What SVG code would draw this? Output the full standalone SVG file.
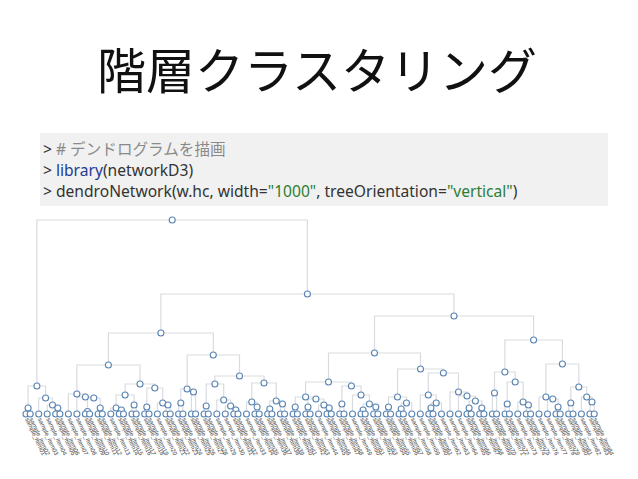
<svg xmlns="http://www.w3.org/2000/svg" width="638" height="479" viewBox="0 0 638 479">
<style>
.title{font-family:"Noto Sans CJK JP","Noto Sans",sans-serif;font-size:49px;fill:#111}
.code{font-family:"Noto Sans","Noto Sans CJK JP",sans-serif;font-size:15.6px;fill:#333}
.cm{fill:#8a8a8a}.kw{fill:#1f3a93}.st{fill:#2e7d32}
.lk{fill:none;stroke:#d8dbe0;stroke-width:1.2}
circle{fill:#fff;stroke:#5b85b3;stroke-width:1.1}
.lb{font-family:"Liberation Sans",sans-serif;font-size:6px;fill:#444}
</style>
<rect width="638" height="479" fill="#fff"/>
<text class="title" x="317" y="89" text-anchor="middle">階層クラスタリング</text>
<rect x="40" y="133" width="568" height="73" fill="#f1f1f1"/>
<text class="code" x="43" y="155"><tspan>&gt; </tspan><tspan class="cm"># デンドログラムを描画</tspan></text>
<text class="code" x="43" y="176"><tspan>&gt; </tspan><tspan class="kw">library</tspan><tspan>(networkD3)</tspan></text>
<text class="code" x="43" y="197"><tspan>&gt; dendroNetwork(w.hc, width=</tspan><tspan class="st">"1000"</tspan><tspan>, treeOrientation=</tspan><tspan class="st">"vertical"</tspan><tspan>)</tspan></text>
<g id="connectors">
<path class="lk" d="M26 414V408H30.2V414M55.7 414V408H59.9V414M47.2 414V405H57.8V408M38.7 414V398H52.5V405M28.1 408V386H45.6V398"/>
<path class="lk" d="M85.4 414V411.5H89.6V414M98.1 414V408H102.3V414M87.5 411.5V398H100.2V408M76.9 414V397H93.8V398M68.4 414V394H85.4V397M119.3 414V410H123.5V414M110.8 414V408H121.4V410M132 414V405H136.2V414M116.1 408V395H134.1V405M144.7 414V407H149V414M165.9 414V405H170.2V414M157.4 414V403H168V405M146.8 407V388H162.7V403M125.1 395V384H154.8V388M76.9 394V365H140V384"/>
<path class="lk" d="M178.6 414V403H182.9V414M191.4 414V392H195.6V414M180.8 403V389H193.5V392M204.1 414V406H208.3V414M233.8 414V410H238V414M225.3 414V406H235.9V410M216.8 414V400H230.6V406M206.2 406V384H223.7V400M255 414V407H259.2V414M246.5 414V402H257.1V407M267.7 414V409H271.9V414M280.4 414V404H284.6V414M269.8 409V401H282.5V404M251.8 402V383H276.2V401M214.9 384V376H264V383M187.1 389V355H239.5V376M108.4 365V333H213.3V355"/>
<path class="lk" d="M293.1 414V407H297.4V414M305.8 414V407H310.1V414M327 414V408H331.3V414M318.6 414V405H329.2V408M308 407V399H323.9V405M295.2 407V397H315.9V399M339.8 414V404H344V414M361 414V410H365.2V414M373.7 414V407H377.9V414M363.1 410V404H375.8V407M352.5 414V395H369.4V404M341.9 404V386H361V395M305.6 397V382H351.4V386"/>
<path class="lk" d="M386.4 414V407H390.6V414M399.1 414V409H403.4V414M401.2 409V403H411.8V414M388.5 407V397H406.5V403M428.8 414V408H433V414M430.9 408V403H441.5V414M420.3 414V395H436.2V403M467 414V408H471.2V414M479.7 414V408H483.9V414M469.1 408V401H481.8V408M458.5 414V396H475.4V401M450 414V392H467V396M428.3 395V373H458.5V392M397.5 397V369H443.4V373M328.5 382V353H420.5V369"/>
<path class="lk" d="M492.4 414V393H496.6V414M505.1 414V404H509.4V414M526.3 414V405H530.6V414M517.8 414V402H528.4V405M507.2 404V382H523.1V402M494.5 393V372H515.2V382M556 414V407H560.2V414M547.5 414V399H558.1V407M539 414V397H552.8V399M568.7 414V403H573V414M589.9 414V402H594.2V414M581.4 414V397H592V402M570.8 403V387H586.7V397M545.9 397V364H578.8V387M504.9 372V340H562.4V364"/>
<path class="lk" d="M374.5 353V316H533.6V340M160.9 333V294H454V316M36.9 386V220H307.4V294"/>
</g>
<g id="internal-nodes">
<g id="n-root"><circle cx="172.2" cy="220" r="3"/></g>
<g id="n-B"><circle cx="307.4" cy="294" r="3"/></g>
<g id="n-C"><circle cx="160.9" cy="333" r="3"/></g>
<g id="n-D"><circle cx="454" cy="316" r="3"/></g>
<g id="n-A"><circle cx="36.9" cy="386" r="3"/></g>
<g id="n-a1"><circle cx="28.1" cy="408" r="3"/></g>
<g id="n-a2"><circle cx="45.6" cy="398" r="3"/></g>
<g id="n-a3"><circle cx="52.5" cy="405" r="3"/></g>
<g id="n-a4"><circle cx="57.8" cy="408" r="3"/></g>
<g id="n-E"><circle cx="108.4" cy="365" r="3"/></g>
<g id="n-e2"><circle cx="76.9" cy="394" r="3"/></g>
<g id="n-e3"><circle cx="85.4" cy="397" r="3"/></g>
<g id="n-e4"><circle cx="93.8" cy="398" r="3"/></g>
<g id="n-e5"><circle cx="87.5" cy="411.5" r="3"/></g>
<g id="n-e6"><circle cx="100.2" cy="408" r="3"/></g>
<g id="n-E2"><circle cx="140" cy="384" r="3"/></g>
<g id="n-e7"><circle cx="125.1" cy="395" r="3"/></g>
<g id="n-e8"><circle cx="116.1" cy="408" r="3"/></g>
<g id="n-e9"><circle cx="121.4" cy="410" r="3"/></g>
<g id="n-e10"><circle cx="134.1" cy="405" r="3"/></g>
<g id="n-e11"><circle cx="154.8" cy="388" r="3"/></g>
<g id="n-e12"><circle cx="146.8" cy="407" r="3"/></g>
<g id="n-e13"><circle cx="162.7" cy="403" r="3"/></g>
<g id="n-e14"><circle cx="168" cy="405" r="3"/></g>
<g id="n-F"><circle cx="213.3" cy="355" r="3"/></g>
<g id="n-F1"><circle cx="187.1" cy="389" r="3"/></g>
<g id="n-fa"><circle cx="180.8" cy="403" r="3"/></g>
<g id="n-fb"><circle cx="193.5" cy="392" r="3"/></g>
<g id="n-F2"><circle cx="239.5" cy="376" r="3"/></g>
<g id="n-fc"><circle cx="214.9" cy="384" r="3"/></g>
<g id="n-fd"><circle cx="206.2" cy="406" r="3"/></g>
<g id="n-fe"><circle cx="223.7" cy="400" r="3"/></g>
<g id="n-ff"><circle cx="230.6" cy="406" r="3"/></g>
<g id="n-fg"><circle cx="235.9" cy="410" r="3"/></g>
<g id="n-fh"><circle cx="264" cy="383" r="3"/></g>
<g id="n-fi"><circle cx="251.8" cy="402" r="3"/></g>
<g id="n-fj"><circle cx="257.1" cy="407" r="3"/></g>
<g id="n-fk"><circle cx="276.2" cy="401" r="3"/></g>
<g id="n-fl"><circle cx="269.8" cy="409" r="3"/></g>
<g id="n-fm"><circle cx="282.5" cy="404" r="3"/></g>
<g id="n-G"><circle cx="374.5" cy="353" r="3"/></g>
<g id="n-G1"><circle cx="328.5" cy="382" r="3"/></g>
<g id="n-ga"><circle cx="305.6" cy="397" r="3"/></g>
<g id="n-gb"><circle cx="295.2" cy="407" r="3"/></g>
<g id="n-gc"><circle cx="315.9" cy="399" r="3"/></g>
<g id="n-gd"><circle cx="308" cy="407" r="3"/></g>
<g id="n-ge"><circle cx="323.9" cy="405" r="3"/></g>
<g id="n-gf"><circle cx="329.2" cy="408" r="3"/></g>
<g id="n-gg"><circle cx="351.4" cy="386" r="3"/></g>
<g id="n-gh"><circle cx="341.9" cy="404" r="3"/></g>
<g id="n-gi"><circle cx="361" cy="395" r="3"/></g>
<g id="n-gj"><circle cx="369.4" cy="404" r="3"/></g>
<g id="n-gk"><circle cx="363.1" cy="410" r="3"/></g>
<g id="n-gl"><circle cx="375.8" cy="407" r="3"/></g>
<g id="n-G2"><circle cx="420.5" cy="369" r="3"/></g>
<g id="n-gm"><circle cx="397.5" cy="397" r="3"/></g>
<g id="n-gn"><circle cx="388.5" cy="407" r="3"/></g>
<g id="n-gp"><circle cx="406.5" cy="403" r="3"/></g>
<g id="n-gp0"><circle cx="401.2" cy="409" r="3"/></g>
<g id="n-gq"><circle cx="443.4" cy="373" r="3"/></g>
<g id="n-gr"><circle cx="428.3" cy="395" r="3"/></g>
<g id="n-gt"><circle cx="436.2" cy="403" r="3"/></g>
<g id="n-gu"><circle cx="430.9" cy="408" r="3"/></g>
<g id="n-gs"><circle cx="458.5" cy="392" r="3"/></g>
<g id="n-gv"><circle cx="467" cy="396" r="3"/></g>
<g id="n-gw"><circle cx="475.4" cy="401" r="3"/></g>
<g id="n-gx"><circle cx="469.1" cy="408" r="3"/></g>
<g id="n-gy"><circle cx="481.8" cy="408" r="3"/></g>
<g id="n-H"><circle cx="533.6" cy="340" r="3"/></g>
<g id="n-H1"><circle cx="504.9" cy="372" r="3"/></g>
<g id="n-ha"><circle cx="494.5" cy="393" r="3"/></g>
<g id="n-hb"><circle cx="515.2" cy="382" r="3"/></g>
<g id="n-hc"><circle cx="507.2" cy="404" r="3"/></g>
<g id="n-hd"><circle cx="523.1" cy="402" r="3"/></g>
<g id="n-he"><circle cx="528.4" cy="405" r="3"/></g>
<g id="n-H2"><circle cx="562.4" cy="364" r="3"/></g>
<g id="n-hf"><circle cx="545.9" cy="397" r="3"/></g>
<g id="n-hg"><circle cx="552.8" cy="399" r="3"/></g>
<g id="n-hh"><circle cx="558.1" cy="407" r="3"/></g>
<g id="n-hi"><circle cx="578.8" cy="387" r="3"/></g>
<g id="n-hj"><circle cx="570.8" cy="403" r="3"/></g>
<g id="n-hk"><circle cx="586.7" cy="397" r="3"/></g>
<g id="n-hl"><circle cx="592" cy="402" r="3"/></g>
</g>
<g id="leaves">
<g id="leaf-1"><circle cx="26" cy="414" r="3"/><text class="lb" transform="translate(25,419) rotate(65)">sample_item01</text></g>
<g id="leaf-2"><circle cx="30.2" cy="414" r="3"/><text class="lb" transform="translate(29.2,419) rotate(65)">sample_item02</text></g>
<g id="leaf-3"><circle cx="38.7" cy="414" r="3"/><text class="lb" transform="translate(37.7,419) rotate(65)">sample_item03</text></g>
<g id="leaf-4"><circle cx="47.2" cy="414" r="3"/><text class="lb" transform="translate(46.2,419) rotate(65)">sample_item04</text></g>
<g id="leaf-5"><circle cx="55.7" cy="414" r="3"/><text class="lb" transform="translate(54.7,419) rotate(65)">sample_item05</text></g>
<g id="leaf-6"><circle cx="59.9" cy="414" r="3"/><text class="lb" transform="translate(58.9,419) rotate(65)">sample_item06</text></g>
<g id="leaf-7"><circle cx="68.4" cy="414" r="3"/><text class="lb" transform="translate(67.4,419) rotate(65)">sample_item07</text></g>
<g id="leaf-8"><circle cx="76.9" cy="414" r="3"/><text class="lb" transform="translate(75.9,419) rotate(65)">sample_item08</text></g>
<g id="leaf-9"><circle cx="85.4" cy="414" r="3"/><text class="lb" transform="translate(84.4,419) rotate(65)">sample_item09</text></g>
<g id="leaf-10"><circle cx="89.6" cy="414" r="3"/><text class="lb" transform="translate(88.6,419) rotate(65)">sample_item10</text></g>
<g id="leaf-11"><circle cx="98.1" cy="414" r="3"/><text class="lb" transform="translate(97.1,419) rotate(65)">sample_item11</text></g>
<g id="leaf-12"><circle cx="102.3" cy="414" r="3"/><text class="lb" transform="translate(101.3,419) rotate(65)">sample_item12</text></g>
<g id="leaf-13"><circle cx="110.8" cy="414" r="3"/><text class="lb" transform="translate(109.8,419) rotate(65)">sample_item13</text></g>
<g id="leaf-14"><circle cx="119.3" cy="414" r="3"/><text class="lb" transform="translate(118.3,419) rotate(65)">sample_item14</text></g>
<g id="leaf-15"><circle cx="123.5" cy="414" r="3"/><text class="lb" transform="translate(122.5,419) rotate(65)">sample_item15</text></g>
<g id="leaf-16"><circle cx="132" cy="414" r="3"/><text class="lb" transform="translate(131,419) rotate(65)">sample_item16</text></g>
<g id="leaf-17"><circle cx="136.2" cy="414" r="3"/><text class="lb" transform="translate(135.2,419) rotate(65)">sample_item17</text></g>
<g id="leaf-18"><circle cx="144.7" cy="414" r="3"/><text class="lb" transform="translate(143.7,419) rotate(65)">sample_item18</text></g>
<g id="leaf-19"><circle cx="149" cy="414" r="3"/><text class="lb" transform="translate(148,419) rotate(65)">sample_item19</text></g>
<g id="leaf-20"><circle cx="157.4" cy="414" r="3"/><text class="lb" transform="translate(156.4,419) rotate(65)">sample_item20</text></g>
<g id="leaf-21"><circle cx="165.9" cy="414" r="3"/><text class="lb" transform="translate(164.9,419) rotate(65)">sample_item21</text></g>
<g id="leaf-22"><circle cx="170.2" cy="414" r="3"/><text class="lb" transform="translate(169.2,419) rotate(65)">sample_item22</text></g>
<g id="leaf-23"><circle cx="178.6" cy="414" r="3"/><text class="lb" transform="translate(177.6,419) rotate(65)">sample_item23</text></g>
<g id="leaf-24"><circle cx="182.9" cy="414" r="3"/><text class="lb" transform="translate(181.9,419) rotate(65)">sample_item24</text></g>
<g id="leaf-25"><circle cx="191.4" cy="414" r="3"/><text class="lb" transform="translate(190.4,419) rotate(65)">sample_item25</text></g>
<g id="leaf-26"><circle cx="195.6" cy="414" r="3"/><text class="lb" transform="translate(194.6,419) rotate(65)">sample_item26</text></g>
<g id="leaf-27"><circle cx="204.1" cy="414" r="3"/><text class="lb" transform="translate(203.1,419) rotate(65)">sample_item27</text></g>
<g id="leaf-28"><circle cx="208.3" cy="414" r="3"/><text class="lb" transform="translate(207.3,419) rotate(65)">sample_item28</text></g>
<g id="leaf-29"><circle cx="216.8" cy="414" r="3"/><text class="lb" transform="translate(215.8,419) rotate(65)">sample_item29</text></g>
<g id="leaf-30"><circle cx="225.3" cy="414" r="3"/><text class="lb" transform="translate(224.3,419) rotate(65)">sample_item30</text></g>
<g id="leaf-31"><circle cx="233.8" cy="414" r="3"/><text class="lb" transform="translate(232.8,419) rotate(65)">sample_item31</text></g>
<g id="leaf-32"><circle cx="238" cy="414" r="3"/><text class="lb" transform="translate(237,419) rotate(65)">sample_item32</text></g>
<g id="leaf-33"><circle cx="246.5" cy="414" r="3"/><text class="lb" transform="translate(245.5,419) rotate(65)">sample_item33</text></g>
<g id="leaf-34"><circle cx="255" cy="414" r="3"/><text class="lb" transform="translate(254,419) rotate(65)">sample_item34</text></g>
<g id="leaf-35"><circle cx="259.2" cy="414" r="3"/><text class="lb" transform="translate(258.2,419) rotate(65)">sample_item35</text></g>
<g id="leaf-36"><circle cx="267.7" cy="414" r="3"/><text class="lb" transform="translate(266.7,419) rotate(65)">sample_item36</text></g>
<g id="leaf-37"><circle cx="271.9" cy="414" r="3"/><text class="lb" transform="translate(270.9,419) rotate(65)">sample_item37</text></g>
<g id="leaf-38"><circle cx="280.4" cy="414" r="3"/><text class="lb" transform="translate(279.4,419) rotate(65)">sample_item38</text></g>
<g id="leaf-39"><circle cx="284.6" cy="414" r="3"/><text class="lb" transform="translate(283.6,419) rotate(65)">sample_item39</text></g>
<g id="leaf-40"><circle cx="293.1" cy="414" r="3"/><text class="lb" transform="translate(292.1,419) rotate(65)">sample_item40</text></g>
<g id="leaf-41"><circle cx="297.4" cy="414" r="3"/><text class="lb" transform="translate(296.4,419) rotate(65)">sample_item41</text></g>
<g id="leaf-42"><circle cx="305.8" cy="414" r="3"/><text class="lb" transform="translate(304.8,419) rotate(65)">sample_item42</text></g>
<g id="leaf-43"><circle cx="310.1" cy="414" r="3"/><text class="lb" transform="translate(309.1,419) rotate(65)">sample_item43</text></g>
<g id="leaf-44"><circle cx="318.6" cy="414" r="3"/><text class="lb" transform="translate(317.6,419) rotate(65)">sample_item44</text></g>
<g id="leaf-45"><circle cx="327" cy="414" r="3"/><text class="lb" transform="translate(326,419) rotate(65)">sample_item45</text></g>
<g id="leaf-46"><circle cx="331.3" cy="414" r="3"/><text class="lb" transform="translate(330.3,419) rotate(65)">sample_item46</text></g>
<g id="leaf-47"><circle cx="339.8" cy="414" r="3"/><text class="lb" transform="translate(338.8,419) rotate(65)">sample_item47</text></g>
<g id="leaf-48"><circle cx="344" cy="414" r="3"/><text class="lb" transform="translate(343,419) rotate(65)">sample_item48</text></g>
<g id="leaf-49"><circle cx="352.5" cy="414" r="3"/><text class="lb" transform="translate(351.5,419) rotate(65)">sample_item49</text></g>
<g id="leaf-50"><circle cx="361" cy="414" r="3"/><text class="lb" transform="translate(360,419) rotate(65)">sample_item50</text></g>
<g id="leaf-51"><circle cx="365.2" cy="414" r="3"/><text class="lb" transform="translate(364.2,419) rotate(65)">sample_item51</text></g>
<g id="leaf-52"><circle cx="373.7" cy="414" r="3"/><text class="lb" transform="translate(372.7,419) rotate(65)">sample_item52</text></g>
<g id="leaf-53"><circle cx="377.9" cy="414" r="3"/><text class="lb" transform="translate(376.9,419) rotate(65)">sample_item53</text></g>
<g id="leaf-54"><circle cx="386.4" cy="414" r="3"/><text class="lb" transform="translate(385.4,419) rotate(65)">sample_item54</text></g>
<g id="leaf-55"><circle cx="390.6" cy="414" r="3"/><text class="lb" transform="translate(389.6,419) rotate(65)">sample_item55</text></g>
<g id="leaf-56"><circle cx="399.1" cy="414" r="3"/><text class="lb" transform="translate(398.1,419) rotate(65)">sample_item56</text></g>
<g id="leaf-57"><circle cx="403.4" cy="414" r="3"/><text class="lb" transform="translate(402.4,419) rotate(65)">sample_item57</text></g>
<g id="leaf-58"><circle cx="411.8" cy="414" r="3"/><text class="lb" transform="translate(410.8,419) rotate(65)">sample_item58</text></g>
<g id="leaf-59"><circle cx="420.3" cy="414" r="3"/><text class="lb" transform="translate(419.3,419) rotate(65)">sample_item59</text></g>
<g id="leaf-60"><circle cx="428.8" cy="414" r="3"/><text class="lb" transform="translate(427.8,419) rotate(65)">sample_item60</text></g>
<g id="leaf-61"><circle cx="433" cy="414" r="3"/><text class="lb" transform="translate(432,419) rotate(65)">sample_item61</text></g>
<g id="leaf-62"><circle cx="441.5" cy="414" r="3"/><text class="lb" transform="translate(440.5,419) rotate(65)">sample_item62</text></g>
<g id="leaf-63"><circle cx="450" cy="414" r="3"/><text class="lb" transform="translate(449,419) rotate(65)">sample_item63</text></g>
<g id="leaf-64"><circle cx="458.5" cy="414" r="3"/><text class="lb" transform="translate(457.5,419) rotate(65)">sample_item64</text></g>
<g id="leaf-65"><circle cx="467" cy="414" r="3"/><text class="lb" transform="translate(466,419) rotate(65)">sample_item65</text></g>
<g id="leaf-66"><circle cx="471.2" cy="414" r="3"/><text class="lb" transform="translate(470.2,419) rotate(65)">sample_item66</text></g>
<g id="leaf-67"><circle cx="479.7" cy="414" r="3"/><text class="lb" transform="translate(478.7,419) rotate(65)">sample_item67</text></g>
<g id="leaf-68"><circle cx="483.9" cy="414" r="3"/><text class="lb" transform="translate(482.9,419) rotate(65)">sample_item68</text></g>
<g id="leaf-69"><circle cx="492.4" cy="414" r="3"/><text class="lb" transform="translate(491.4,419) rotate(65)">sample_item69</text></g>
<g id="leaf-70"><circle cx="496.6" cy="414" r="3"/><text class="lb" transform="translate(495.6,419) rotate(65)">sample_item70</text></g>
<g id="leaf-71"><circle cx="505.1" cy="414" r="3"/><text class="lb" transform="translate(504.1,419) rotate(65)">sample_item71</text></g>
<g id="leaf-72"><circle cx="509.4" cy="414" r="3"/><text class="lb" transform="translate(508.4,419) rotate(65)">sample_item72</text></g>
<g id="leaf-73"><circle cx="517.8" cy="414" r="3"/><text class="lb" transform="translate(516.8,419) rotate(65)">sample_item73</text></g>
<g id="leaf-74"><circle cx="526.3" cy="414" r="3"/><text class="lb" transform="translate(525.3,419) rotate(65)">sample_item74</text></g>
<g id="leaf-75"><circle cx="530.6" cy="414" r="3"/><text class="lb" transform="translate(529.6,419) rotate(65)">sample_item75</text></g>
<g id="leaf-76"><circle cx="539" cy="414" r="3"/><text class="lb" transform="translate(538,419) rotate(65)">sample_item76</text></g>
<g id="leaf-77"><circle cx="547.5" cy="414" r="3"/><text class="lb" transform="translate(546.5,419) rotate(65)">sample_item77</text></g>
<g id="leaf-78"><circle cx="556" cy="414" r="3"/><text class="lb" transform="translate(555,419) rotate(65)">sample_item78</text></g>
<g id="leaf-79"><circle cx="560.2" cy="414" r="3"/><text class="lb" transform="translate(559.2,419) rotate(65)">sample_item79</text></g>
<g id="leaf-80"><circle cx="568.7" cy="414" r="3"/><text class="lb" transform="translate(567.7,419) rotate(65)">sample_item80</text></g>
<g id="leaf-81"><circle cx="573" cy="414" r="3"/><text class="lb" transform="translate(572,419) rotate(65)">sample_item81</text></g>
<g id="leaf-82"><circle cx="581.4" cy="414" r="3"/><text class="lb" transform="translate(580.4,419) rotate(65)">sample_item82</text></g>
<g id="leaf-83"><circle cx="589.9" cy="414" r="3"/><text class="lb" transform="translate(588.9,419) rotate(65)">sample_item83</text></g>
<g id="leaf-84"><circle cx="594.2" cy="414" r="3"/><text class="lb" transform="translate(593.2,419) rotate(65)">sample_item84</text></g>
</g>
</svg>
